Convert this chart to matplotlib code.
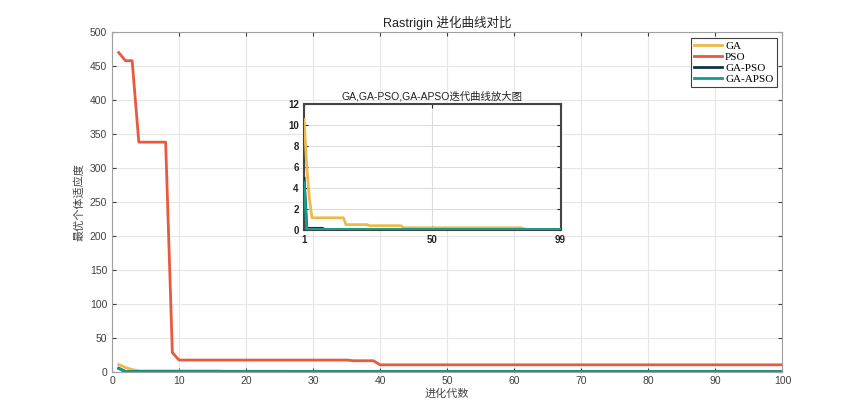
import numpy as np
import matplotlib.pyplot as plt

plt.rcParams['font.family'] = ['Liberation Sans', 'Noto Sans CJK SC', 'DejaVu Sans']

gens = np.arange(1, 101)

# PSO best fitness per generation (run-length)
pso_vals = [470, 458, 458] + [338] * 5 + [28] + [17] * 26 + [16] * 4 + [10] * 61

# GA
ga_vals = [10.5, 6.0, 3.0, 1.15] + [1.15] * 12 + [0.5] * 9 + [0.4] * 13 + \
          [0.2] * 46 + [0.1, 0.05, 0.04] + [0.03] * 13

# GA-PSO
gapso_vals = [4.9] + [0.15] * 7 + [0.02] * 92

# GA-APSO
gaapso_vals = [4.5] + [0.05] * 99

c_ga = '#EDB94B'
c_pso = '#E8593D'
c_gapso = '#13324A'
c_gaapso = '#159C8B'

fig = plt.figure(figsize=(8.65, 4.18), dpi=100)
ax = fig.add_axes([0.1295, 0.111, 0.775, 0.812])

ax.plot(gens, ga_vals, color=c_ga, lw=2, label='GA')
ax.plot(gens, pso_vals, color=c_pso, lw=2, label='PSO')
ax.plot(gens, gapso_vals, color=c_gapso, lw=2, label='GA-PSO')
ax.plot(gens, gaapso_vals, color=c_gaapso, lw=2, label='GA-APSO')

ax.set_xlim(0, 100)
ax.set_ylim(0, 500)
ax.set_xticks(np.arange(0, 101, 10))
ax.set_yticks(np.arange(0, 501, 50))
ax.grid(True, color='#e6e6e6', lw=0.8)
ax.tick_params(direction='in', top=True, right=True, labelsize=7.5,
               colors='#404040', length=3)
for s in ax.spines.values():
    s.set_color('#a0a0a0')
    s.set_linewidth(0.8)

ax.set_title('Rastrigin 进化曲线对比', fontsize=9, color='#222222', pad=4)
ax.set_xlabel('进化代数', fontsize=8, color='#444444', labelpad=2)
ax.set_ylabel('最优个体适应度', fontsize=8, color='#444444',
              family=['Noto Sans CJK SC'])

leg = ax.legend(loc='upper right', prop={'family': 'Liberation Serif', 'size': 8},
                handlelength=2.5, handletextpad=0.3, borderpad=0.3,
                labelspacing=0.1, fancybox=False, framealpha=1)
leg.get_frame().set_edgecolor('#404040')
leg.get_frame().set_linewidth(0.8)

# zoomed inset
ins = fig.add_axes([0.351, 0.45, 0.297, 0.302])
ins.plot(gens, ga_vals, color=c_ga, lw=2, zorder=3)
ins.plot(gens, gapso_vals, color=c_gapso, lw=2, zorder=3)
ins.plot(gens, gaapso_vals, color=c_gaapso, lw=2, zorder=3)
ins.set_xlim(0.8, 99)
ins.set_ylim(0, 12)
ins.set_xticks([1, 50, 99])
ins.set_yticks(np.arange(0, 13, 2))
ins.grid(True, color='#dddddd', lw=0.8)
ins.tick_params(direction='in', top=True, right=True, labelsize=7,
                colors='#222222', length=3)
for lab in ins.get_xticklabels() + ins.get_yticklabels():
    lab.set_fontweight('bold')
for s in ins.spines.values():
    s.set_color('#444444')
    s.set_linewidth(1.5)
ins.set_title('GA,GA-PSO,GA-APSO迭代曲线放大图', fontsize=7.5, color='#222222', pad=3)

fig.savefig('out.png', dpi=100)
